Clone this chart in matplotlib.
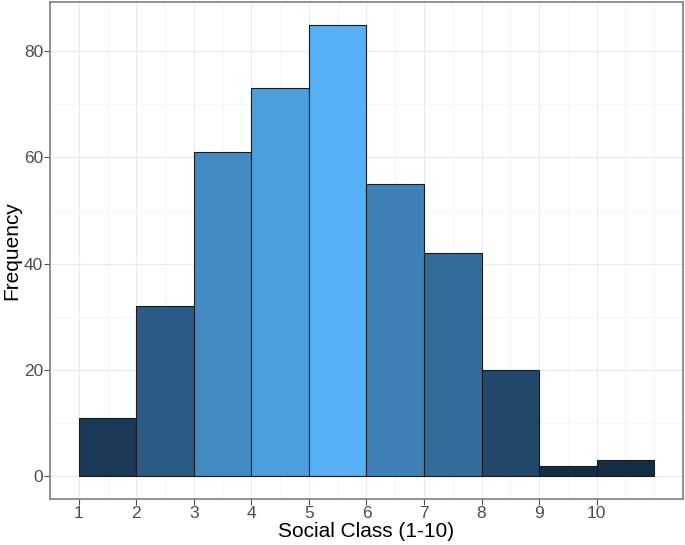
import matplotlib.pyplot as plt
import numpy as np
from matplotlib.colors import LinearSegmentedColormap, Normalize

# histogram of social class, bins of width 1
bin_edges = [1, 2, 3, 4, 5, 6, 7, 8, 9, 10, 11]
counts = [11, 32, 61, 73, 85, 55, 42, 20, 2, 3]
x_ticks = [1, 2, 3, 4, 5, 6, 7, 8, 9, 10]
y_ticks = [0, 20, 40, 60, 80]

plt.rcParams['font.family'] = ['Liberation Sans', 'DejaVu Sans']

# ggplot default continuous fill
cmap = LinearSegmentedColormap.from_list('gg', ['#132B43', '#56B1F7'])
norm = Normalize(vmin=min(counts), vmax=max(counts))

fig = plt.figure(figsize=(6.85, 5.45), dpi=100)
ax = fig.add_axes([0.073, 0.0844, 0.924, 0.912])

lefts = np.array(bin_edges[:-1])
widths = np.diff(bin_edges)
ax.bar(lefts, counts, width=widths, align='edge',
       color=cmap(norm(np.array(counts))), edgecolor='#1a1a1a',
       linewidth=0.8, zorder=3)

ax.set_xlim(0.5, 11.5)
ax.set_ylim(-4.25, 89.25)
ax.set_xticks(x_ticks)
ax.set_yticks(y_ticks)
ax.set_xticks(np.arange(0.5, 11.6, 0.5), minor=True)
ax.set_yticks([10, 30, 50, 70], minor=True)

ax.grid(which='major', color='#ebebeb', linewidth=0.8, zorder=0)
ax.grid(which='minor', color='#f2f2f2', linewidth=0.5, zorder=0)
ax.set_axisbelow(True)

ax.tick_params(which='minor', length=0)
ax.tick_params(which='major', length=4, width=0.8, color='#4d4d4d',
               labelsize=12.5, labelcolor='#4d4d4d', pad=1)

for s in ax.spines.values():
    s.set_color('#7f7f7f')
    s.set_linewidth(1.2)

ax.set_xlabel('Social Class (1-10)', fontsize=15, color='black', labelpad=1)
ax.set_ylabel('Frequency', fontsize=15, color='black', labelpad=2)

fig.savefig('out.png', dpi=100)
